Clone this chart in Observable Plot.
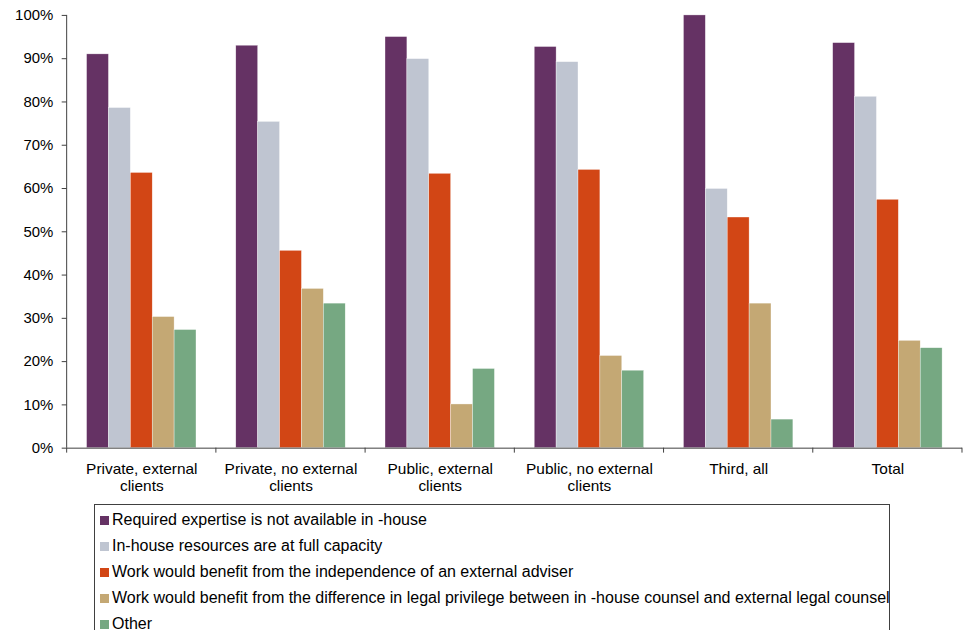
<!DOCTYPE html>
<html><head><meta charset="utf-8">
<script src="https://cdn.jsdelivr.net/npm/d3@7"></script>
<script src="https://cdn.jsdelivr.net/npm/@observablehq/plot@0.6"></script>
<style>
html,body{margin:0;padding:0;overflow:hidden;background:#fff;font-family:"Liberation Sans",Arial,sans-serif;}
#chart svg{display:block;font-family:"Liberation Sans",Arial,sans-serif;}
#legend{position:absolute;left:94px;top:504px;width:796px;height:140px;border:1px solid #404040;box-sizing:border-box;padding-top:2px;}
.row{height:26px;font-size:16px;color:#000;display:flex;align-items:center;white-space:nowrap;}
.sw{width:9px;height:9px;margin-left:5px;margin-right:3px;flex:none;}
</style></head><body>
<div id="chart"></div>
<div id="legend"></div>
<script>
const groups = ["Private, external\nclients", "Private, no external\nclients", "Public, external\nclients", "Public, no external\nclients", "Third, all", "Total"];
const series = [
  "Required expertise is not available in -house",
  "In-house resources are at full capacity",
  "Work would benefit from the independence of an external adviser",
  "Work would benefit from the difference in legal privilege between in -house counsel and external legal counsel",
  "Other"
];
const colors = ["#653264", "#BFC5D1", "#D24615", "#C4A874", "#76A882"];
const expertise    = [91.0, 93.0, 95.0, 92.7, 100.0, 93.6];
const fullCapacity = [78.6, 75.4, 89.9, 89.2, 59.9, 81.2];
const independence = [63.6, 45.6, 63.4, 64.3, 53.3, 57.4];
const privilege    = [30.3, 36.8, 10.1, 21.3, 33.4, 24.8];
const other        = [27.3, 33.4, 18.3, 17.9, 6.6, 23.1];
const yTicks = [0, 10, 20, 30, 40, 50, 60, 70, 80, 90, 100];

const valuesBySeries = [expertise, fullCapacity, independence, privilege, other];
const table = [];
series.forEach((s, i) => groups.forEach((g, j) => table.push({group: g, series: s, value: valuesBySeries[i][j]})));

const chart = Plot.plot({
  width: 968,
  height: 500,
  marginLeft: 65,
  marginRight: 0,
  marginTop: 15,
  marginBottom: 50,
  style: {fontFamily: '"Liberation Sans", Arial, sans-serif', color: "#000", background: "#fff"},
  fx: {domain: groups, padding: 0},
  x: {domain: series, paddingInner: 0, paddingOuter: 0.772, axis: null},
  y: {domain: [0, 100]},
  color: {domain: series, range: colors},
  marks: [
    Plot.barY(table, {fx: "group", x: "series", y: "value", fill: "series", inset: 0, stroke: "#ffffff", strokeWidth: 0.5, strokeOpacity: 0.7}),
    Plot.ruleY([0], {stroke: "#404040", strokeWidth: 1}),
    Plot.axisY({ticks: yTicks, tickSize: 5, tickPadding: 9, tickFormat: d => d + "%", fontSize: 15, label: null, stroke: "#404040"}),
    Plot.axisFx({anchor: "bottom", tickSize: 0, tickPadding: 14, fontSize: 15.5, label: null, lineHeight: 1.1})
  ]
});
document.getElementById("chart").appendChild(chart);

// y-axis line and group boundary ticks derived from the plot's own scales
const fx = chart.scale("fx");
const y = chart.scale("y");
const svg = d3.select(chart);
const y0 = y.apply(0), y1 = y.apply(100);
const xLeft = fx.apply(groups[0]);
svg.append("line").attr("x1", xLeft).attr("x2", xLeft).attr("y1", y1).attr("y2", y0).attr("stroke", "#404040");
const bounds = groups.map(g => fx.apply(g)).concat([fx.apply(groups[groups.length - 1]) + fx.bandwidth]);
svg.append("g").selectAll("line").data(bounds).join("line")
  .attr("x1", d => d).attr("x2", d => d).attr("y1", y0).attr("y2", y0 + 5).attr("stroke", "#404040");

const legend = d3.select("#legend");
series.forEach((s, i) => {
  const row = legend.append("div").attr("class", "row");
  row.append("div").attr("class", "sw").style("background", colors[i]);
  row.append("span").text(s);
});
</script>
</body></html>
